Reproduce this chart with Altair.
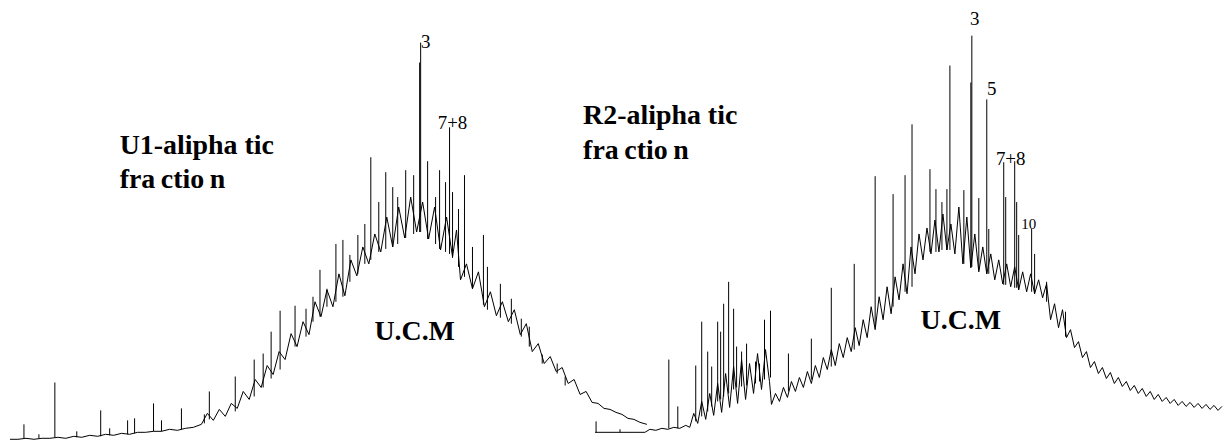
import altair as alt
import pandas as pd

# ---------------- U1 aliphatic fraction: UCM hump trace (scan, abundance) ----------------
u1_scan = [8, 16, 24, 32, 40, 48, 56, 64, 72, 80, 88, 96, 104, 112, 120, 128, 136, 144, 152, 160,
           168, 176, 184, 192, 200, 206, 212, 218, 224, 230, 236, 242, 248, 254, 260, 266, 272, 278,
           284, 290, 296, 302, 308, 314, 320, 326, 332, 338, 344, 350, 356, 362, 368, 374, 380, 386,
           392, 398, 404, 410, 416, 422, 428, 434, 440, 446, 452, 456, 460, 466, 472, 478, 484, 490,
           496, 502, 508, 514, 520, 526, 532, 538, 544, 550, 556, 562, 568, 574, 580, 586, 592, 598,
           604, 610, 616, 622, 628, 634, 640, 647]
u1_abund = [9, 9, 10, 9, 10, 10, 11, 10, 12, 11, 13, 12, 14, 13, 15, 14, 16, 16, 17, 17,
            19, 18, 20, 21, 24, 35, 28, 39, 32, 45, 40, 57, 49, 69, 61, 83, 74, 97,
            89, 115, 102, 127, 114, 147, 132, 159, 142, 175, 153, 189, 173, 202, 185, 215, 197, 232,
            202, 242, 211, 252, 217, 247, 210, 242, 199, 232, 192, 219, 169, 185, 160, 177, 142, 157,
            133, 147, 127, 139, 114, 125, 97, 105, 85, 92, 77, 81, 65, 69, 54, 57, 46, 45,
            40, 39, 36, 34, 30, 29, 26, 24]

# U1 resolved peaks: scan, apex abundance, abundance at peak foot
u1_pk_scan = [22, 37, 53, 75, 99, 108, 126, 133, 152, 160, 180, 203, 208, 234, 253, 262, 270, 279,
              294, 305, 312, 319, 326, 335, 342, 349, 357, 364, 370, 378, 385, 392, 397, 405, 413,
              419, 420, 427, 435, 439, 445, 449, 452, 458, 464, 472, 483, 487, 500, 511, 521, 529,
              542, 557, 565]
u1_pk_top = [24, 14, 66, 17, 38, 20, 28, 30, 45, 28, 40, 34, 57, 72, 89, 95, 117, 138,
             143, 140, 152, 179, 160, 205, 209, 194, 214, 225, 292, 247, 277, 262, 252, 279, 274,
             387, 407, 288, 252, 279, 267, 322, 257, 240, 274, 202, 214, 182, 165, 150, 130, 122,
             94, 85, 72]
u1_pk_foot = [10, 10, 11, 11, 12, 13, 14, 15, 17, 17, 19, 25, 29, 37, 52, 61, 70, 79,
              102, 112, 127, 132, 142, 147, 152, 167, 175, 185, 189, 197, 200, 202, 205, 211, 215,
              217, 217, 210, 205, 200, 197, 195, 191, 182, 172, 160, 144, 139, 131, 125, 112, 102,
              85, 75, 63]

# ---------------- R2 aliphatic fraction ----------------
r2_scan = [595, 605, 615, 625, 635, 645, 650, 656, 662, 668, 674, 680, 686, 690, 694, 698, 702, 706,
           710, 714, 718, 722, 726, 730, 734, 738, 742, 746, 750, 754, 758, 762, 766, 770, 772, 776,
           780, 784, 788, 792, 796, 800, 804, 808, 812, 816, 820, 824, 828, 832, 836, 840, 844, 848,
           852, 856, 860, 864, 868, 872, 876, 880, 884, 888, 892, 896, 900, 904, 908, 912, 916, 920,
           924, 928, 932, 936, 940, 944, 948, 952, 956, 960, 964, 968, 972, 976, 980, 984, 988, 992,
           996, 1000, 1004, 1008, 1012, 1016, 1020, 1024, 1028, 1032, 1036, 1040, 1044, 1048, 1052,
           1056, 1060, 1064, 1068, 1072, 1076, 1080, 1084, 1088, 1092, 1096, 1100, 1104, 1108, 1112,
           1116, 1120, 1124, 1128, 1132, 1136, 1140, 1144, 1148, 1152, 1156, 1160, 1164, 1168, 1172,
           1176, 1180, 1184, 1188, 1192, 1196, 1200, 1204, 1208, 1212, 1216, 1220, 1224]
r2_abund = [16, 16, 16, 16, 16, 16, 19, 18, 20, 19, 21, 20, 23, 21, 35, 25, 47, 29,
            55, 33, 65, 36, 75, 41, 82, 45, 89, 49, 85, 55, 95, 59, 99, 67, 44, 55,
            47, 61, 51, 67, 57, 71, 61, 77, 65, 83, 71, 91, 79, 99, 83, 105, 91, 111,
            97, 121, 103, 129, 111, 142, 119, 152, 129, 162, 135, 172, 149, 185, 155, 202, 175, 215,
            189, 221, 195, 229, 197, 235, 199, 225, 195, 242, 185, 232, 181, 215, 177, 202, 175, 195,
            169, 189, 165, 185, 162, 182, 159, 177, 157, 175, 155, 169, 151, 165, 129,
            145, 121, 139, 111, 119, 101, 107, 91, 97, 81, 87, 75, 81, 70, 76,
            65, 71, 62, 67, 58, 63, 55, 60, 52, 57, 49, 54, 47, 51, 45,
            49, 43, 47, 42, 46, 41, 45, 40, 44, 39, 43, 38, 42]

r2_pk_scan = [596, 620, 669, 678, 696, 702, 708, 712, 718, 721, 724, 729, 734, 737, 742, 747, 756,
              760, 765, 771, 789, 812, 832, 855, 876, 894, 906, 913, 931, 937, 943, 948, 951, 965,
              972, 973, 980, 988, 990, 1005, 1007, 1016, 1018, 1020, 1033, 1036, 1048, 1067]
r2_pk_top = [27, 19, 89, 42, 83, 127, 97, 82, 127, 117, 145, 167, 140, 102, 97, 105, 87,
             85, 129, 138, 95, 110, 161, 185, 273, 255, 274, 325, 280, 260, 247, 260, 384, 259,
             367, 414, 251, 350, 220, 287, 252, 288, 247, 214, 220, 195, 167, 137]
r2_pk_foot = [16, 16, 20, 20, 27, 32, 37, 42, 47, 49, 52, 55, 59, 61, 62, 63, 65,
              67, 69, 71, 57, 69, 82, 99, 122, 142, 157, 162, 197, 197, 199, 199, 199, 185,
              182, 182, 179, 175, 175, 164, 164, 161, 161, 159, 157, 155, 147, 112]

# ---------------- annotations ----------------
peak_labels = ["3", "7+8", "3", "5", "7+8", "10"]
peak_label_scan = [425, 452, 976, 993, 1012, 1030]
peak_label_abund = [402, 320, 425, 354, 284, 220]
peak_label_size = [19, 19, 19, 19, 19, 15]

title_lines = ["U1-alipha tic", "fra\u2009ctio\u2009n", "R2-alipha tic", "fra\u2009ctio\u2009n"]
title_scan = [118, 118, 583, 583]
title_abund = [295, 261, 325, 290]

ucm_labels = ["U.C.M", "U.C.M"]
ucm_scan = [414, 962]
ucm_abund = [109, 120]

SERIF = "Liberation Serif"

# ---------------- tables ----------------
trace_df = pd.concat([
    pd.DataFrame({"scan": u1_scan, "abund": u1_abund, "trace": "U1"}),
    pd.DataFrame({"scan": r2_scan, "abund": r2_abund, "trace": "R2"}),
], ignore_index=True)

peak_df = pd.concat([
    pd.DataFrame({"scan": u1_pk_scan, "top": u1_pk_top, "foot": u1_pk_foot}),
    pd.DataFrame({"scan": r2_pk_scan, "top": r2_pk_top, "foot": r2_pk_foot}),
], ignore_index=True)

plabel_df = pd.DataFrame({"text": peak_labels, "scan": peak_label_scan,
                          "abund": peak_label_abund, "size": peak_label_size})
title_df = pd.DataFrame({"text": title_lines, "scan": title_scan, "abund": title_abund})
ucm_df = pd.DataFrame({"text": ucm_labels, "scan": ucm_scan, "abund": ucm_abund})

xs = alt.Scale(domain=[8, 1224], nice=False, zero=False)
ys = alt.Scale(domain=[8, 439], nice=False, zero=False)

line = alt.Chart(trace_df).mark_line(color="black", strokeWidth=1, interpolate="linear").encode(
    x=alt.X("scan:Q", scale=xs, axis=None),
    y=alt.Y("abund:Q", scale=ys, axis=None),
    detail="trace:N",
)

peaks = alt.Chart(peak_df).mark_rule(color="black", strokeWidth=1).encode(
    x=alt.X("scan:Q", scale=xs, axis=None),
    y=alt.Y("top:Q", scale=ys, axis=None),
    y2="foot:Q",
)

plabels = alt.Chart(plabel_df).mark_text(
    font=SERIF, color="black", align="center", baseline="alphabetic"
).encode(
    x=alt.X("scan:Q", scale=xs, axis=None),
    y=alt.Y("abund:Q", scale=ys, axis=None),
    text="text:N",
    size=alt.Size("size:Q", scale=None, legend=None),
)

titles = alt.Chart(title_df).mark_text(
    font=SERIF, fontWeight="bold", fontSize=28, color="black",
    align="left", baseline="alphabetic"
).encode(
    x=alt.X("scan:Q", scale=xs, axis=None),
    y=alt.Y("abund:Q", scale=ys, axis=None),
    text="text:N",
)

ucm = alt.Chart(ucm_df).mark_text(
    font=SERIF, fontWeight="bold", fontSize=28, color="black",
    align="center", baseline="alphabetic"
).encode(
    x=alt.X("scan:Q", scale=xs, axis=None),
    y=alt.Y("abund:Q", scale=ys, axis=None),
    text="text:N",
)

chart = alt.layer(line, peaks, plabels, titles, ucm).properties(
    width=1216, height=431, padding=0, background="white"
).configure_view(stroke=None)

chart.save("out.html", embed_options={"renderer": "svg", "actions": False})
